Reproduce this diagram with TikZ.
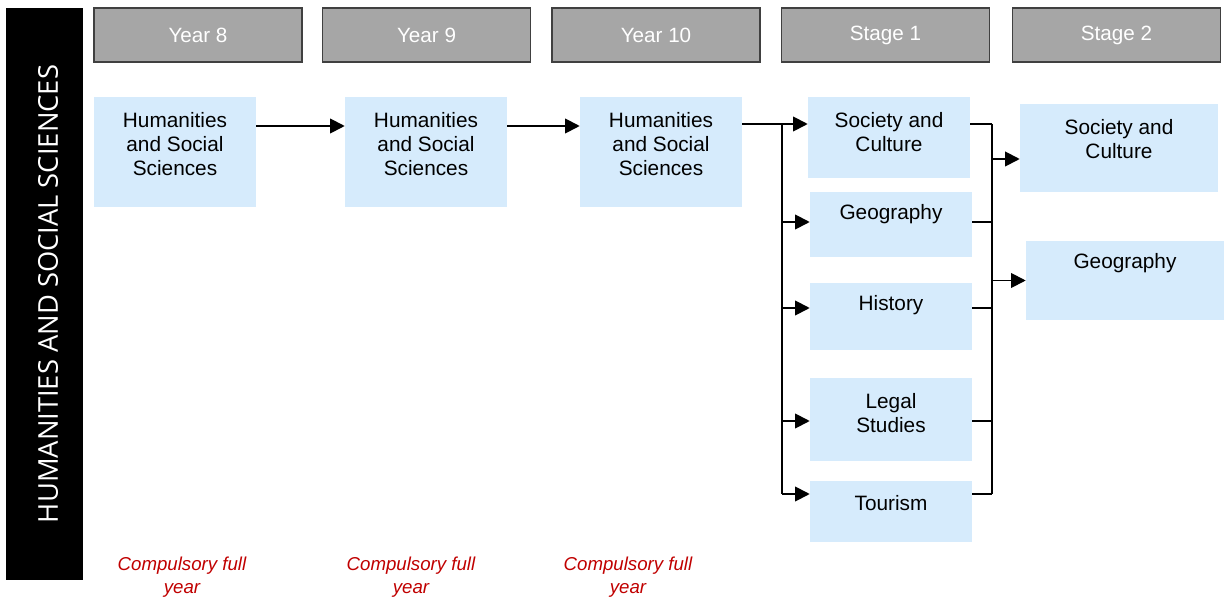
\documentclass[tikz,border=0pt]{standalone}
\usepackage{fontspec}
\setmainfont{Liberation Sans}
\newfontfamily\barfont{Open Sans}
\usetikzlibrary{arrows.meta}
\definecolor{hdrgray}{HTML}{A6A6A6}
\definecolor{hdrline}{HTML}{404040}
\definecolor{subjblue}{HTML}{D6EBFC}
\definecolor{noteRed}{HTML}{C00000}
\tikzset{
  hdr/.style={draw=hdrline, line width=1.1pt, fill=hdrgray, minimum width=156pt, minimum height=40.5pt, inner sep=0pt, text=white, font=\fontsize{15.5}{18}\selectfont},
  subj/.style={fill=subjblue, inner sep=0pt, minimum width=121.5pt},
  txt/.style={align=center, inner sep=0pt, font=\fontsize{15.6}{18}\selectfont},
  note/.style={align=center, inner sep=0pt, text=noteRed, font=\fontsize{14}{17.25}\selectfont\itshape},
  link/.style={line width=1.4pt},
  arr/.style={line width=1.4pt, -{Triangle[length=11pt,width=11pt]}},
}
\begin{document}
\begin{tikzpicture}[x=0.75pt,y=0.75pt,yscale=-1]
  \useasboundingbox (0,0) rectangle (1227,598);
  %Side bar
  \node [fill=black, rotate=90, minimum width=429pt, minimum height=57.75pt, inner sep=0pt] (bar) at (44.5,294) {};
  \node [rotate=90, text=white, inner sep=0pt, font=\barfont\fontsize{20.5}{24}\selectfont] (bartxt) at (48,294) {HUMANITIES AND SOCIAL SCIENCES};

  %Header boxes
  \node [hdr] (y8) at (198,35) {Year 8};
  \node [hdr] (y9) at (426.5,35) {Year 9};
  \node [hdr] (y10) at (656,35) {Year 10};
  \node [hdr] (st1) at (885.5,35) {Stage 1};
  \node [hdr] (st2) at (1116.5,35) {Stage 2};

  %Year 8 - 10 boxes
  \node [subj, minimum height=82.5pt] (h8) at (175,152) {};
  \node [txt] (h8t) at (175,144) {Humanities\\and Social\\Sciences};
  \node [subj, minimum height=82.5pt] (h9) at (426,152) {};
  \node [txt] (h9t) at (426,144) {Humanities\\and Social\\Sciences};
  \node [subj, minimum height=82.5pt] (h10) at (661,152) {};
  \node [txt] (h10t) at (661,144) {Humanities\\and Social\\Sciences};

  %Stage 1 boxes
  \node [subj, minimum height=60.75pt] (soc1) at (889,137.5) {};
  \node [txt] (soc1t) at (889,132) {Society and\\Culture};
  \node [subj, minimum height=48.75pt] (geo1) at (891,224.5) {};
  \node [txt] (geo1t) at (891,214) {Geography};
  \node [subj, minimum height=50.25pt] (hist1) at (891,316.5) {};
  \node [txt] (hist1t) at (891,305) {History};
  \node [subj, minimum height=62.25pt] (leg1) at (891,419.5) {};
  \node [txt] (leg1t) at (891,413) {Legal\\Studies};
  \node [subj, minimum height=45.75pt] (tour1) at (891,511.5) {};
  \node [txt] (tour1t) at (891,503) {Tourism};

  %Stage 2 boxes
  \node [subj, minimum width=148.5pt, minimum height=66pt] (soc2) at (1119,148) {};
  \node [txt] (soc2t) at (1119,139) {Society and\\Culture};
  \node [subj, minimum width=148.5pt, minimum height=59.25pt] (geo2) at (1125,280.5) {};
  \node [txt] (geo2t) at (1125,263) {Geography};

  %Notes
  \node [note] (n8) at (182,577) {Compulsory full\\year};
  \node [note] (n9) at (411,577) {Compulsory full\\year};
  \node [note] (n10) at (628,577) {Compulsory full\\year};

  %Year arrows
  \draw [arr] ([yshift=-19.5pt]h8.east) -- ([yshift=-19.5pt]h9.west);
  \draw [arr] ([yshift=-19.5pt]h9.east) -- ([yshift=-19.5pt]h10.west);

  %Stage 1 fan out and Stage 2 fan in
  \coordinate (bus1) at (782,124);
  \coordinate (bus2) at (992,124);
  \draw [link] ([yshift=-21pt]h10.east) -- (bus1);
  \draw [link] (bus1) -- ++(0,370);
  \draw [link] (bus2) -- ++(0,370);
  \foreach \n/\s in {soc1/-10.125pt, geo1/-1.875pt, hist1/-6.375pt, leg1/1.125pt, tour1/-13.125pt} {
    \path ([yshift=\s]\n.west) coordinate (w\n) ([yshift=\s]\n.east) coordinate (e\n);
    \draw [arr] (bus1 |- w\n) -- (w\n);
    \draw [link] (e\n) -- (bus2 |- e\n);
  }
  \path ([yshift=8.25pt]soc2.west) coordinate (wsoc2);
  \draw [arr] (bus2 |- wsoc2) -- (wsoc2);
  \draw [arr] (bus2 |- geo2.west) -- (geo2.west);
\end{tikzpicture}
\end{document}
